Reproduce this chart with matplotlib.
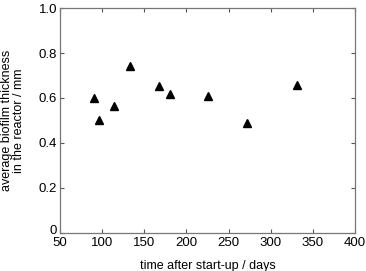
import matplotlib
matplotlib.use("Agg")
import matplotlib.pyplot as plt
import matplotlib.transforms as mtransforms

# time after start-up (days) and average biofilm thickness (mm)
days = [90, 96, 114, 133, 167, 181, 225, 272, 331]
thickness = [0.601, 0.502, 0.565, 0.742, 0.653, 0.619, 0.607, 0.488, 0.656]

x_ticks = [50, 100, 150, 200, 250, 300, 350, 400]
y_ticks = [0, 0.2, 0.4, 0.6, 0.8, 1.0]
y_tick_labels = ["0", "0.2", "0.4", "0.6", "0.8", "1.0"]

plt.rcParams['font.family'] = ['Liberation Sans', 'DejaVu Sans']

fig = plt.figure(figsize=(3.66, 2.71), dpi=100)
ax = fig.add_axes([0.164, 0.141, 0.806, 0.829])

ax.plot(days, thickness, linestyle='none', marker='^', color='black', markersize=5.5)

ax.set_xlim(50, 400)
ax.set_ylim(0, 1.0)
ax.set_xticks(x_ticks)
ax.set_yticks(y_ticks)
ax.set_yticklabels(y_tick_labels)
ax.tick_params(direction='in', top=True, right=True, length=3, width=0.8,
               labelsize=9.5, color='#555555', pad=2)
ax.tick_params(axis='x', pad=3)

# nudge the "0" up a little so it clears the "50"
zero = ax.get_yticklabels()[0]
zero.set_transform(zero.get_transform() +
                   mtransforms.ScaledTranslation(0, 2.5 / 72, fig.dpi_scale_trans))

for sp in ax.spines.values():
    sp.set_color('#777777')
    sp.set_linewidth(0.9)

ax.set_xlabel('time after start-up / days', fontsize=9, labelpad=8)
ax.set_ylabel('average biofilm thickness\nin the reactor / mm', fontsize=9,
              labelpad=10, linespacing=1.0)

fig.savefig('out.png', dpi=100)
